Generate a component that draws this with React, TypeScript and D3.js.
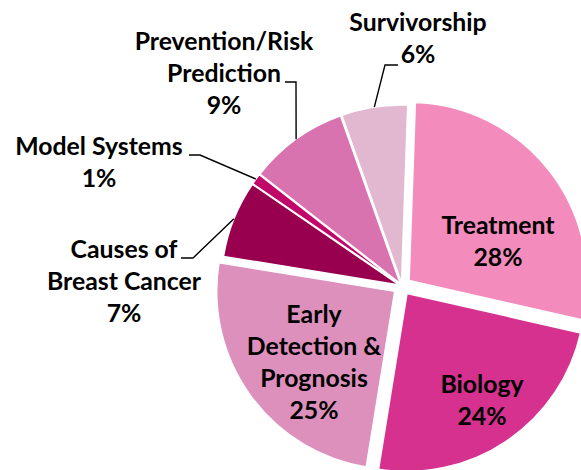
import React from 'react';
import * as d3 from 'd3';

// Research portfolio share by category
const categories = [
  'Treatment',
  'Biology',
  'Early Detection & Prognosis',
  'Causes of Breast Cancer',
  'Model Systems',
  'Prevention/Risk Prediction',
  'Survivorship'
];
const shares = [28, 24, 25, 7, 1, 9, 6];
const labelLines = [
  ['Treatment'],
  ['Biology'],
  ['Early', 'Detection &', 'Prognosis'],
  ['Causes of', 'Breast Cancer'],
  ['Model Systems'],
  ['Prevention/Risk', 'Prediction'],
  ['Survivorship']
];

const COLORS = ['#F38BBD', '#D6318F', '#DE90BD', '#98004F', '#C1086A', '#D973B0', '#E2B8D1'];
const EXPLODE = [9, 9, 9, 3, 3, 3, 3];

const width = 581;
const height = 470;
const cx = 402;
const cy = 286;
const radius = 178;
const startAngle = (2 * Math.PI) / 180;
const lineHeight = 32;

// label placement: centre x, first baseline, optional leader (label side points)
const labelLayout: { x: number; y: number; leader?: [number, number][] }[] = [
  { x: 498, y: 234 },
  { x: 482, y: 393 },
  { x: 314, y: 323 },
  { x: 124, y: 258, leader: [[181, 258], [193, 258]] },
  { x: 99, y: 155, leader: [[189, 155], [200, 155]] },
  { x: 224, y: 50, leader: [[285, 82], [296, 82]] },
  { x: 418, y: 31, leader: [[398, 65], [385, 65]] }
];

type Datum = { name: string; value: number; i: number };

export default function App() {
  const data: Datum[] = categories.map((name, i) => ({ name, value: shares[i], i }));

  const pie = d3.pie<Datum>()
    .sort(null)
    .value(d => d.value)
    .startAngle(startAngle)
    .endAngle(startAngle + 2 * Math.PI);

  const arc = d3.arc<d3.PieArcDatum<Datum>>()
    .innerRadius(0)
    .outerRadius(radius);

  const arcs = pie(data);

  const offset = (a: d3.PieArcDatum<Datum>) => {
    const mid = (a.startAngle + a.endAngle) / 2;
    const e = EXPLODE[a.data.i];
    return [Math.sin(mid) * e, -Math.cos(mid) * e];
  };

  return (
    <svg width={width} height={height} style={{ position: 'absolute', left: 0, top: 0, background: '#fff' }}
      fontFamily="Lato, 'Noto Sans', sans-serif" fontWeight="bold">
      <g transform={`translate(${cx},${cy})`}>
        {arcs.map(a => {
          const [ox, oy] = offset(a);
          return (
            <path key={a.data.name} d={arc(a) || ''} transform={`translate(${ox},${oy})`}
              fill={COLORS[a.data.i]} stroke="#fff" strokeWidth={1.5} strokeLinejoin="round" />
          );
        })}
      </g>
      {arcs.map(a => {
        const lay = labelLayout[a.data.i];
        if (!lay.leader) return null;
        const [ox, oy] = offset(a);
        const mid = (a.startAngle + a.endAngle) / 2;
        const end: [number, number] = [cx + ox + Math.sin(mid) * radius, cy + oy - Math.cos(mid) * radius];
        const pts = [...lay.leader, end];
        return (
          <path key={'l' + a.data.name} d={d3.line()(pts) || ''} fill="none" stroke="#000" strokeWidth={1.4} />
        );
      })}
      {arcs.map(a => {
        const lay = labelLayout[a.data.i];
        const lines = [...labelLines[a.data.i], `${a.data.value}%`];
        return (
          <text key={'t' + a.data.name} textAnchor="middle" fontSize={24.8} fill="#000">
            {lines.map((ln, k) => (
              <tspan key={k} x={lay.x} y={lay.y + k * lineHeight}>{ln}</tspan>
            ))}
          </text>
        );
      })}
    </svg>
  );
}
